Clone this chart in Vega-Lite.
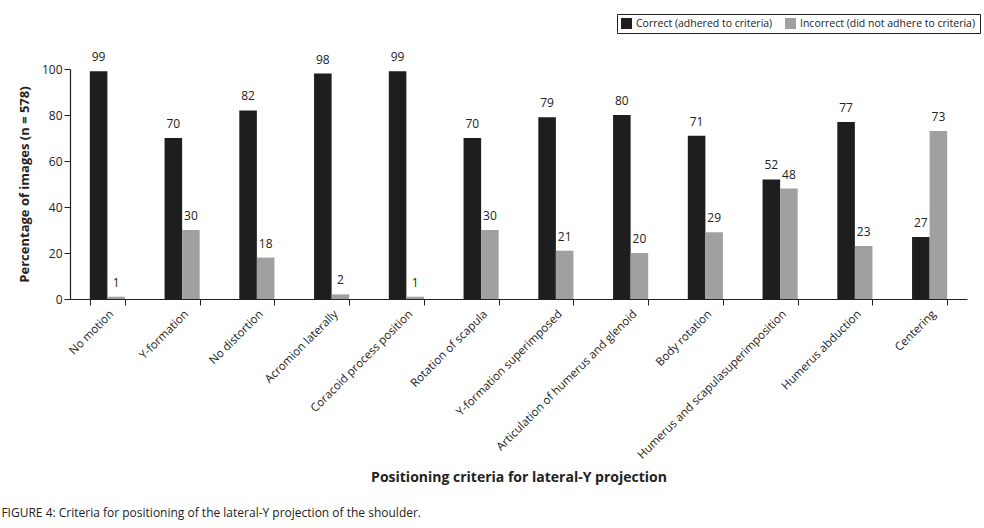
{
  "$schema": "https://vega.github.io/schema/vega-lite/v6.json",
  "autosize": "none",
  "width": 897,
  "height": 230,
  "padding": {"left": 70, "top": 69, "right": 17, "bottom": 229},
  "background": "white",
  "config": {
    "font": "Open Sans",
    "view": {"stroke": null},
    "axis": {"labelFont": "Open Sans", "titleFont": "Open Sans", "labelColor": "#222", "titleColor": "#222", "domainColor": "#222", "tickColor": "#222"}
  },
  "title": {
    "text": "FIGURE 4: Criteria for positioning of the lateral-Y projection of the shoulder.",
    "orient": "bottom",
    "anchor": "start",
    "frame": "bounds",
    "fontSize": 12,
    "fontWeight": "normal",
    "font": "Open Sans",
    "color": "#222",
    "offset": 24,
    "dx": -17
  },
  "data": {
    "values": [
      {"criterion": "No motion", "series": "Correct (adhered to criteria)", "value": 99},
      {"criterion": "No motion", "series": "Incorrect (did not adhere to criteria)", "value": 1},
      {"criterion": "Y-formation", "series": "Correct (adhered to criteria)", "value": 70},
      {"criterion": "Y-formation", "series": "Incorrect (did not adhere to criteria)", "value": 30},
      {"criterion": "No distortion", "series": "Correct (adhered to criteria)", "value": 82},
      {"criterion": "No distortion", "series": "Incorrect (did not adhere to criteria)", "value": 18},
      {"criterion": "Acromion laterally", "series": "Correct (adhered to criteria)", "value": 98},
      {"criterion": "Acromion laterally", "series": "Incorrect (did not adhere to criteria)", "value": 2},
      {"criterion": "Coracoid process position", "series": "Correct (adhered to criteria)", "value": 99},
      {"criterion": "Coracoid process position", "series": "Incorrect (did not adhere to criteria)", "value": 1},
      {"criterion": "Rotation of scapula", "series": "Correct (adhered to criteria)", "value": 70},
      {"criterion": "Rotation of scapula", "series": "Incorrect (did not adhere to criteria)", "value": 30},
      {"criterion": "Y-formation superimposed", "series": "Correct (adhered to criteria)", "value": 79},
      {"criterion": "Y-formation superimposed", "series": "Incorrect (did not adhere to criteria)", "value": 21},
      {"criterion": "Articulation of humerus and glenoid", "series": "Correct (adhered to criteria)", "value": 80},
      {"criterion": "Articulation of humerus and glenoid", "series": "Incorrect (did not adhere to criteria)", "value": 20},
      {"criterion": "Body rotation", "series": "Correct (adhered to criteria)", "value": 71},
      {"criterion": "Body rotation", "series": "Incorrect (did not adhere to criteria)", "value": 29},
      {"criterion": "Humerus and scapulasuperimposition", "series": "Correct (adhered to criteria)", "value": 52},
      {"criterion": "Humerus and scapulasuperimposition", "series": "Incorrect (did not adhere to criteria)", "value": 48},
      {"criterion": "Humerus abduction", "series": "Correct (adhered to criteria)", "value": 77},
      {"criterion": "Humerus abduction", "series": "Incorrect (did not adhere to criteria)", "value": 23},
      {"criterion": "Centering", "series": "Correct (adhered to criteria)", "value": 27},
      {"criterion": "Centering", "series": "Incorrect (did not adhere to criteria)", "value": 73}
    ]
  },
  "encoding": {
    "x": {
      "field": "criterion",
      "type": "nominal",
      "sort": null,
      "scale": {"paddingInner": 0.53, "paddingOuter": 0.265},
      "axis": {
        "title": "Positioning criteria for lateral-Y projection",
        "titleFontSize": 14,
        "titleFontWeight": "bold",
        "titleY": 178,
        "titleBaseline": "middle",
        "labelAngle": -45,
        "labelAlign": "right",
        "labelBaseline": "top",
        "labelFontSize": 11.5,
        "labelPadding": 3,
        "labelLimit": 400,
        "tickBand": "extent",
        "tickSize": 6,
        "domainWidth": 1.2
      }
    },
    "xOffset": {"field": "series", "type": "nominal", "scale": {"paddingInner": 0}},
    "y": {
      "field": "value",
      "type": "quantitative",
      "scale": {"domain": [0, 100]},
      "axis": {
        "title": "Percentage of images (n = 578)",
        "titleFontSize": 13,
        "titleFontWeight": "bold",
        "titlePadding": 10,
        "values": [0, 20, 40, 60, 80, 100],
        "grid": false,
        "labelFontSize": 12,
        "tickSize": 6,
        "domainWidth": 1.2
      }
    }
  },
  "layer": [
    {
      "mark": {"type": "bar"},
      "encoding": {
        "color": {
          "field": "series",
          "type": "nominal",
          "scale": {"domain": ["Correct (adhered to criteria)", "Incorrect (did not adhere to criteria)"], "range": ["#1e1e1e", "#a0a0a0"]},
          "legend": {
            "title": null,
            "orient": "none",
            "legendX": 547,
            "legendY": -55,
            "direction": "horizontal",
            "strokeColor": "#222",
            "padding": 4,
            "symbolType": "square",
            "symbolSize": 120,
            "symbolStrokeWidth": 0,
            "labelFont": "Open Sans",
            "labelFontSize": 10.5,
            "labelColor": "#222",
            "columnPadding": 12,
            "labelLimit": 300
          }
        }
      }
    },
    {
      "mark": {"type": "text", "dy": -14, "fontSize": 12, "color": "#222", "font": "Open Sans"},
      "encoding": {"text": {"field": "value", "type": "quantitative"}}
    }
  ]
}
